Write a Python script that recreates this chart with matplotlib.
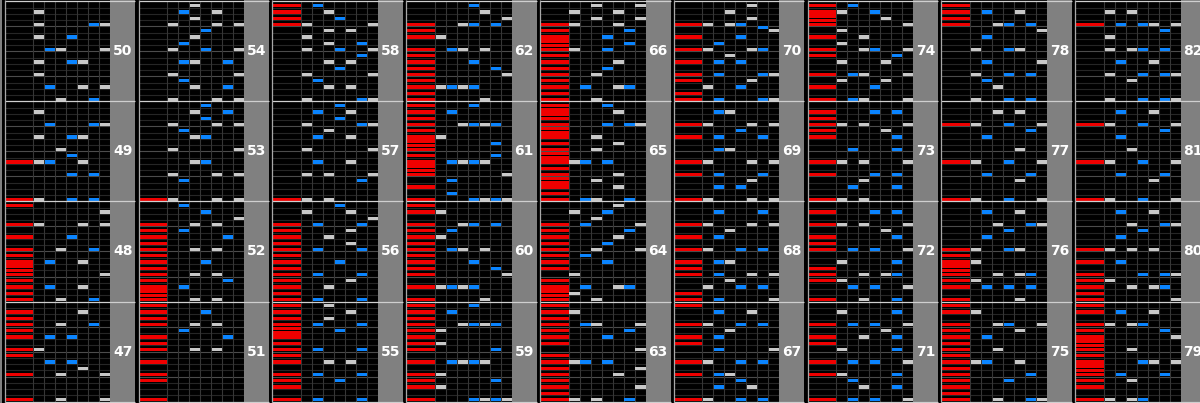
import matplotlib.pyplot as plt

# measures, 4 per column, bottom to top, 9 columns
measure_no = [47, 48, 49, 50, 51, 52, 53, 54, 55, 56, 57, 58,
              59, 60, 61, 62, 63, 64, 65, 66, 67, 68, 69, 70,
              71, 72, 73, 74, 75, 76, 77, 78, 79, 80, 81, 82]

# "pos:lanes" -> pos in 16ths from start of measure, lane 0 = scratch, 1-7 = keys
measure_notes = [
    "0:037 4:037 5:5 6:24 7:0 8:01 10:024 11:0 12:036 13:0 14:05",  # 47
    "0:036 1:0 2:025 3:0 4:07 4.67:0 5.33:0 6:025 7:0 8:036 10:04 12:0157 14:7 15:0",  # 48
    "0:0146 4:46 6:0125 7:4 8:3 10:145 12:267 14:1",  # 49
    "0:36 2:257 4:1 6:145 8:237 10:14 12:167 14:1",  # 50
    "0:0 3:0 4:0 6:0 8:035 9:0 10:06 11:2 12:035 13:0 14:04 15:0",  # 51
    "0:035 0.67:0 1.33:0 2:02 3:06 4:035 5:0 6:04 7:0 8:035 9:0 10:06 11:02 12:035 13:7 14:4 15:2",  # 52
    "0:0157 3:2 4:157 6:34 8:17 10:34 11:2 12:157 13:4 14:36 15:4",  # 53
    "0:157 2:36 3:2 4:17 6:236 8:147 9:2 10:3 11:4 12:157 13:3 14:25 15:3",  # 54
    "0:026 2:0 3:04 4:026 6:035 7:0 8:026 9:0 10:0 10.67:0 11:4 11.33:0 12:026 13:03 14:05 15:03",  # 55
    "0:026 1:0 2:03 3:05 4:026 5:0 6:04 7:0 8:026 9:05 10:03 11:05 12:026 13:7 14:15 15:4",  # 56
    "0:013 3:6 4:137 6:25 8:17 10:25 11:3 12:167 13:4 14:25 15:4",  # 57
    "0:167 2:35 3:2 4:17 5:4 6:35 7:6 8:147 9:36 10:1 11:35 12:017 13:04 14:03 15:02",  # 58
    "0:04567 2:01 3:06 4:01 6:02345 8:06 9:01 10:0 11:01 12:03456 13:0 14:02 15:04",  # 59
    "0:05 2:01234 4:07 5:06 6:04 7:0 8:0235 9:0 10:01 11:02 12:0346 14:01 15:0",  # 60
    "0:04567 1:2 2:0 3:2 4:07 4.67:0 5.33:0 6:02345 7:06 8:0 8.67:0 9:6 9.33:0 10:01 11:0 12:03456 13:0 14:02 15:04",  # 61
    "0:05 1:0 2:01234 3:0 4:07 5:06 6:04 7:0 8:0235 10:01 11:0 12:0346 13:7 14:5 15:4",  # 62
    "0:0136 1:0 2:07 3:0 4:05 5:07 6:0124 7:0 8:7 9:0 10:04 11:06 12:0237 13:0 14:01 15:0",  # 63
    "0:03 0.67:0 1:1 1.33:0 2:0256 3:0 4:1 5:0 6:04 7:02 8:037 9:04 10:05 11:06 12:027 13:3 14:14 15:5",  # 64
    "0:0236 1:0 2:05 2.67:0 3:3 3.33:0 4:05 5:0 6:0124 6.67:0 7.33:0 8:03 9:05 10:03 10.67:0 11.33:0 12:0467 13:0 13.67:0 14:5 14.33:0 15:04",  # 65
    "0:03 1:0 2:0256 3:0 4:03 5:04 6:05 7:0 8:014 8.67:0 9:6 9.33:0 10:04 11:06 12:015 13:37 14:15 15:37",  # 66
    "0:0146 2:25 3:4 4:023 6:0146 8:27 9:0 10:02 11:3 12:0146 14:25 15:0",  # 67
    "0:027 1:0 2:146 3:3 4:0257 5:0 6:023 8:0146 10:02 11:3 12:0157 14:26",  # 68
    "0:0157 2:24 3:5 4:026 6:0157 8:23 10:026 11:4 12:0157 14:23",  # 69
    "0:0267 1:0 2:14 3:05 4:0267 6:024 7:3 8:0156 9:2 10:04 11:7 11.5:6 12:0134 13:5 14:3 15:5",  # 70
    "0:0247 2:36 3:2 4:016 6:0247 8:16 9:0 10:036 11:5 12:0247 14:16",  # 71
    "0:036 2:247 3:01 4:0356 5:0 6:16 8:0247 9:0 10:06 11:5 12:0137 14:046",  # 72
    "0:013 2:26 3:3 4:046 6:0137 8:26 10:06 11:05 12:0137 13:0 14:046",  # 73
    "0:0237 2:04 3:15 4:0237 6:15 7:06 8:0347 9:1 10:03 11:1 12:07 12.67:0 13:5 13.33:0 14:014 15:02",  # 74
    "0:0367 1:0 2:0 3:04 4:06 5:0 6:0125 7:0 8:03 9:0 10:02 11:05 12:0347 14:01 15:0",  # 75
    "0:05 2:0246 3:01 4:0356 4.67:0 5.33:0 6:01 7:0 8:0145 10:2 11:4 12:367 14:25",  # 76
    "0:0147 3:5 4:26 6:0147 8:5 10:2 11:6 12:0147 14:35",  # 77
    "0:146 2:3 3:2 4:146 6:27 8:145 10:2 11:7 12:0346 13:0 14:025 15:0",  # 78
    "0:0134 2:0 3:03 4:026 4.67:0 5.33:0 6:0457 7:0 8:03 8.67:0 9.33:0 10:07 11:06 12:0134 14:025 15:0",  # 79
    "0:07 1:0 2:0356 3:01 4:0467 6:02 8:0135 10:2 11:4 12:367 14:25",  # 80
    "0:0147 3:5 4:26 6:0147 8:3 10:2 11:6 12:0147 14:25",  # 81
    "0:1467 3:3 4:1467 6:25 8:1346 10:1 11:6 12:02457 14:13",  # 82
]

lane_colors = ['#f00000', '#c8c8c8', '#0a84ff', '#c8c8c8',
               '#0a84ff', '#c8c8c8', '#0a84ff', '#c8c8c8']

# layout (pixels across, measures up)
X0, PITCH = 4.7, 133.8
SCR_W, KEY_W, BAR_W = 28.6, 11.0, 25.0
NOTE_H = 0.034
PER_COL = 4

fig = plt.figure(figsize=(12, 4.03), dpi=100, facecolor='black')
ax = fig.add_axes([0, 0, 1, 1])
ax.set_facecolor('black')
ax.set_xlim(0, 1200)
ax.set_ylim(-0.015, 4.015)
ax.axis('off')

# leftover bar of the previous column at the far left
ax.bar(0, 4.03, 1.8, bottom=-0.015, align='edge', color='#808080', linewidth=0)

n_cols = len(measure_no) // PER_COL
for c in range(n_cols):
    x0 = X0 + c * PITCH
    keys_end = x0 + SCR_W + 7 * KEY_W
    bar_end = keys_end + BAR_W

    # 16th grid and beat lines
    for r in range(PER_COL):
        for k in range(1, 16):
            col = '#4c4c4c' if k % 4 == 0 else '#262626'
            ax.hlines(r + k / 16, x0, keys_end, color=col, lw=0.8, zorder=1)
    # lane separators
    for i in range(8):
        ax.vlines(x0 + SCR_W + i * KEY_W, 0, PER_COL, color='#363636', lw=0.8, zorder=1)

    # measure number bar
    ax.bar(keys_end, 4.03, BAR_W, bottom=-0.015, align='edge',
           color='#808080', linewidth=0, zorder=2)
    # measure lines
    for r in range(PER_COL + 1):
        ax.hlines(r, x0, bar_end, color='#cfcfcf', lw=0.9, zorder=4)
    # column border
    ax.vlines(x0, -0.015, 4.015, color='#a8a8a8', lw=0.9, zorder=4)

    for r in range(PER_COL):
        i = c * PER_COL + r
        ax.text(keys_end + BAR_W / 2, r + 0.5, str(measure_no[i]), color='white',
                fontsize=10, fontweight='bold', ha='center', va='center', zorder=5)

# notes
lefts = {n: [] for n in range(8)}
widths = {n: [] for n in range(8)}
bottoms = {n: [] for n in range(8)}
for i, row in enumerate(measure_notes):
    c, r = divmod(i, PER_COL)
    x0 = X0 + c * PITCH
    for tok in row.split():
        pos, lanes = tok.split(':')
        y = r + float(pos) / 16
        for ch in lanes:
            lane = int(ch)
            if lane == 0:
                lefts[0].append(x0 + 0.6)
                widths[0].append(SCR_W - 0.6)
            else:
                lefts[lane].append(x0 + SCR_W + (lane - 1) * KEY_W + 0.9)
                widths[lane].append(KEY_W - 0.9)
            bottoms[lane].append(y + 0.003)

for lane in range(8):
    ax.bar(lefts[lane], NOTE_H, widths[lane], bottom=bottoms[lane], align='edge',
           color=lane_colors[lane], linewidth=0, zorder=3)

fig.savefig('out.png', dpi=100, facecolor='black')
